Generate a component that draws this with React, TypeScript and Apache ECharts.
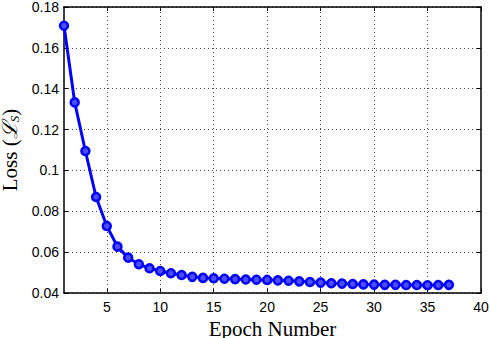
import React, { useEffect, useRef } from "react";
import * as echarts from "echarts";

const epochs = Array.from({ length: 37 }, (_, i) => i + 1);
const lossValues = [
  0.1708, 0.1333, 0.1095, 0.087, 0.0728, 0.0627, 0.0573, 0.0541, 0.0521, 0.0508,
  0.0497, 0.0488, 0.0479, 0.0474, 0.0472, 0.047, 0.0468, 0.0466, 0.0465, 0.0464,
  0.0462, 0.046, 0.0457, 0.0454, 0.0451, 0.0448, 0.0446, 0.0444, 0.0442, 0.0441,
  0.044, 0.044, 0.0439, 0.0439, 0.0438, 0.0439, 0.044,
];
const xTicks = [5, 10, 15, 20, 25, 30, 35, 40];
const xGridLines = [5, 10, 15, 20, 25, 30, 35];

export default function App() {
  const ref = useRef<HTMLDivElement>(null);
  useEffect(() => {
    if (!ref.current) return;
    const chart = echarts.init(ref.current, null, { renderer: "svg" });
    const sans = "'Liberation Sans', Arial, sans-serif";
    const serif = "'Liberation Serif', 'DejaVu Serif', serif";
    const dotted = { color: "#444", type: [1, 3], width: 1 };
    chart.setOption({
      animation: false,
      grid: { left: 64, right: 9, top: 7, bottom: 45, containLabel: false, outerBoundsMode: "none" },
      xAxis: [
        {
          type: "value",
          min: 1,
          max: 40,
          name: "Epoch Number",
          nameLocation: "middle",
          nameGap: 25,
          nameTextStyle: { fontFamily: serif, fontSize: 21, color: "#000" },
          axisLine: { show: true, lineStyle: { color: "#000", width: 1.5 } },
          axisTick: { show: true, inside: true, length: 4, customValues: xTicks, lineStyle: { color: "#000" } },
          axisLabel: { customValues: xTicks, fontFamily: sans, fontSize: 14, color: "#000", margin: 7 },
          splitLine: { show: false },
        },
        {
          type: "value",
          position: "top",
          min: 1,
          max: 40,
          axisLine: { show: true, onZero: false, lineStyle: { color: "#000", width: 1.5 } },
          axisTick: { show: true, inside: true, length: 4, customValues: xTicks, lineStyle: { color: "#000" } },
          axisLabel: { show: false },
          splitLine: { show: false },
        },
      ],
      yAxis: [
        {
          type: "value",
          min: 0.04,
          max: 0.18,
          interval: 0.02,
          name: "{a|Loss (}{b|ℒ}{c|S}{a|)}",
          nameLocation: "middle",
          nameGap: 34,
          nameTextStyle: {
            rich: {
              a: { fontFamily: serif, fontSize: 21, lineHeight: 22, color: "#000" },
              b: { fontFamily: serif, fontSize: 21, lineHeight: 22, color: "#000", fontStyle: "italic" },
              c: { fontFamily: serif, fontSize: 13, lineHeight: 13, color: "#000", fontStyle: "italic", verticalAlign: "bottom" },
            },
          },
          axisLine: { show: true, lineStyle: { color: "#000", width: 1.5 } },
          axisTick: { show: true, inside: true, length: 4, lineStyle: { color: "#000" } },
          axisLabel: { fontFamily: sans, fontSize: 14, color: "#000", margin: 5 },
          splitLine: { show: true, lineStyle: dotted },
        },
        {
          type: "value",
          position: "right",
          min: 0.04,
          max: 0.18,
          interval: 0.02,
          axisLine: { show: true, onZero: false, lineStyle: { color: "#000", width: 1.5 } },
          axisTick: { show: true, inside: true, length: 4, lineStyle: { color: "#000" } },
          axisLabel: { show: false },
          splitLine: { show: false },
        },
      ],
      series: [
        {
          type: "line",
          data: epochs.map((e, i) => [e, lossValues[i]]),
          symbol: "circle",
          symbolSize: 8,
          lineStyle: { color: "#0000ff", width: 3 },
          itemStyle: { color: "#4d4dff", borderColor: "#0000ff", borderWidth: 2.5 },
          markLine: {
            silent: true,
            symbol: "none",
            label: { show: false },
            lineStyle: dotted,
            data: xGridLines.map((v) => ({ xAxis: v })),
          },
          z: 5,
        },
      ],
    });
    return () => chart.dispose();
  }, []);
  return <div ref={ref} style={{ width: 490, height: 338, position: "absolute", left: 0, top: 0 }} />;
}
